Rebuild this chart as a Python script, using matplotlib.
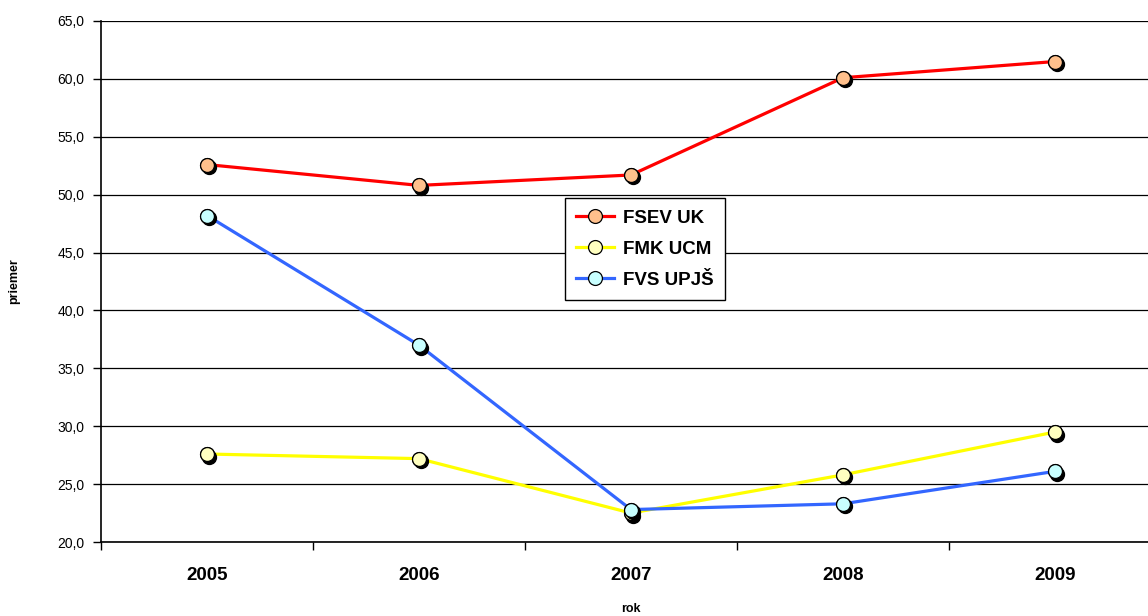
import matplotlib.pyplot as plt
import matplotlib.transforms as mtransforms
from matplotlib.ticker import FuncFormatter, MultipleLocator

plt.rcParams['font.family'] = ['Liberation Sans', 'DejaVu Sans']

years = ['2005', '2006', '2007', '2008', '2009']
fsev_uk = [52.6, 50.8, 51.7, 60.1, 61.5]
fmk_ucm = [27.6, 27.2, 22.5, 25.8, 29.5]
fvs_upjs = [48.2, 37.0, 22.8, 23.3, 26.1]

series = [
    ('FSEV UK', fsev_uk, '#FF0000', '#FFC08C'),
    ('FMK UCM', fmk_ucm, '#FFFF00', '#FFFFC0'),
    ('FVS UPJŠ', fvs_upjs, '#3366FF', '#C8FFFF'),
]

fig = plt.figure(figsize=(11.48, 6.16), dpi=100)
ax = fig.add_axes([101 / 1148, 1 - 542 / 616, 1060 / 1148, 521 / 616])

x = list(range(len(years)))
shadow = ax.transData + mtransforms.ScaledTranslation(2 / 100, -2.5 / 100, fig.dpi_scale_trans)

for name, vals, col, face in series:
    ax.plot(x, vals, color=col, lw=2.3, zorder=3, label=name,
            marker='o', ms=10, mfc=face, mec='black', mew=0.9)
    ax.plot(x, vals, ls='none', marker='o', ms=10, mfc='black', mec='black',
            transform=shadow, zorder=3)
    ax.plot(x, vals, ls='none', marker='o', ms=10, mfc=face, mec='black',
            mew=0.9, zorder=3)

ax.set_xlim(-0.5, 4.5)
ax.set_ylim(20, 65)
ax.yaxis.set_major_locator(MultipleLocator(5))
ax.yaxis.set_major_formatter(FuncFormatter(lambda v, p: f'{v:.1f}'.replace('.', ',')))
ax.grid(axis='y', color='black', lw=0.9, zorder=1)

ax.set_xticks(x)
ax.set_xticklabels(years, fontsize=13.5, fontweight='bold')
ax.set_xticks([i - 0.5 for i in range(len(years) + 1)], minor=True)
ax.tick_params(axis='x', which='major', length=0, pad=18)
ax.tick_params(axis='x', which='minor', length=6, width=1)
ax.tick_params(axis='y', length=6, width=1, labelsize=10, pad=6)

for s in ['top', 'right']:
    ax.spines[s].set_visible(False)
ax.spines['left'].set_linewidth(1.2)
ax.spines['bottom'].set_linewidth(1.2)

ax.set_xlabel('rok', fontsize=9, fontweight='bold', labelpad=14)
ax.set_ylabel('priemer', fontsize=9, fontweight='bold', labelpad=27)

leg = ax.legend(loc='center', bbox_to_anchor=(0.513, 0.562), fancybox=False,
                edgecolor='black', framealpha=1, prop={'weight': 'bold', 'size': 13.5},
                handlelength=2.0, handletextpad=0.5, borderpad=0.6, labelspacing=0.75)
leg.get_frame().set_linewidth(1.0)
leg.set_zorder(5)

fig.savefig('out.png', dpi=100)
